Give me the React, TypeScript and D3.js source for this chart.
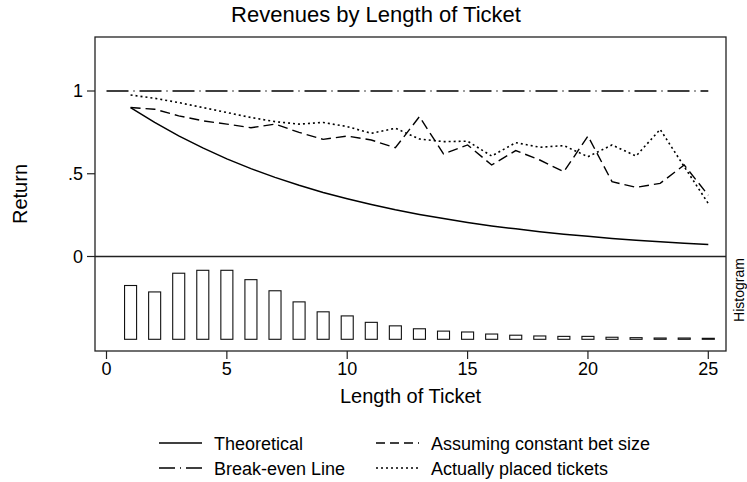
import { useEffect, useRef } from "react";
import * as d3 from "d3";

// ticket length 1..25
const lengths = d3.range(1, 26);

// theoretical return per ticket length
const theoretical = [
  0.9, 0.81, 0.729, 0.656, 0.59, 0.531, 0.478, 0.43, 0.387, 0.349, 0.314, 0.282,
  0.254, 0.229, 0.206, 0.185, 0.167, 0.15, 0.135, 0.122, 0.109, 0.098, 0.089,
  0.08, 0.072,
];

// assuming constant bet size
const constantBet = [
  0.9, 0.89, 0.85, 0.82, 0.8, 0.778, 0.8, 0.75, 0.708, 0.728, 0.704, 0.657,
  0.845, 0.62, 0.674, 0.553, 0.64, 0.583, 0.512, 0.728, 0.452, 0.418, 0.442,
  0.553, 0.37,
];

// actually placed tickets
const actualTickets = [
  0.976, 0.956, 0.93, 0.9, 0.87, 0.84, 0.815, 0.8, 0.81, 0.785, 0.744, 0.775,
  0.71, 0.694, 0.697, 0.607, 0.688, 0.66, 0.67, 0.603, 0.674, 0.607, 0.768,
  0.543, 0.32,
];

// share of tickets by length (percent)
const histogram = [
  9.2, 8.1, 11.3, 11.8, 11.8, 10.2, 8.3, 6.4, 4.7, 4.0, 2.9, 2.3, 1.8, 1.4,
  1.25, 0.9, 0.7, 0.57, 0.5, 0.5, 0.35, 0.28, 0.22, 0.22, 0.17,
];

const breakEven = [
  { x: 0, y: 1 },
  { x: 25, y: 1 },
];

const xTicks = [0, 5, 10, 15, 20, 25];
const yTicks = [0, 0.5, 1];
const yTickLabels = ["0", ".5", "1"];

const legendItems = [
  { label: "Theoretical", dash: null, col: 0, row: 0 },
  { label: "Break-even Line", dash: "16,5,1,5", col: 0, row: 1 },
  { label: "Assuming constant bet size", dash: "9,5", col: 1, row: 0 },
  { label: "Actually placed tickets", dash: "2,3", col: 1, row: 1 },
];

const FONT = "'Liberation Sans', Arial, Helvetica, sans-serif";

const App = () => {
  const svgRef = useRef<SVGSVGElement | null>(null);

  useEffect(() => {
    document.body.style.margin = "0";
    const width = 747;
    const height = 482;
    const frame = { left: 95, right: 726, top: 37, bottom: 351 };

    const svg = d3.select(svgRef.current);
    svg.selectAll("*").remove();
    svg.attr("width", width).attr("height", height);

    svg
      .append("rect")
      .attr("width", width)
      .attr("height", height)
      .attr("fill", "white");

    const x = d3.scaleLinear().domain([0, 25]).range([106.5, 708.3]);
    const y = d3.scaleLinear().domain([0, 1]).range([256.5, 91]);
    const histBase = 339.3;
    const yHist = d3
      .scaleLinear()
      .domain([0, 11.8])
      .range([histBase, histBase - 69]);

    // title
    svg
      .append("text")
      .attr("x", 376)
      .attr("y", 22)
      .attr("text-anchor", "middle")
      .style("font-family", FONT)
      .style("font-size", "22px")
      .text("Revenues by Length of Ticket");

    // histogram bars
    const barW = x(0.5) - x(0);
    svg
      .selectAll(".bar")
      .data(histogram)
      .enter()
      .append("rect")
      .attr("class", "bar")
      .attr("x", (d, i) => x(lengths[i]) - barW / 2)
      .attr("y", (d) => yHist(d))
      .attr("width", barW)
      .attr("height", (d) => histBase - yHist(d))
      .attr("fill", "white")
      .attr("stroke", "#111")
      .attr("stroke-width", 1.1);

    // lines
    const line = d3
      .line<{ x: number; y: number }>()
      .x((d) => x(d.x))
      .y((d) => y(d.y));

    const toPts = (arr: number[]) => arr.map((v, i) => ({ x: lengths[i], y: v }));

    const series = [
      { pts: breakEven, dash: "22,5,1,5", w: 1.3 },
      { pts: toPts(theoretical), dash: null, w: 1.5 },
      { pts: toPts(constantBet), dash: "10,5", w: 1.4 },
      { pts: toPts(actualTickets), dash: "2,3", w: 1.6 },
    ];

    series.forEach((s) => {
      svg
        .append("path")
        .attr("d", line(s.pts))
        .attr("fill", "none")
        .attr("stroke", "#000")
        .attr("stroke-width", s.w)
        .attr("stroke-dasharray", s.dash);
    });

    // frame and zero separator
    svg
      .append("rect")
      .attr("x", frame.left)
      .attr("y", frame.top)
      .attr("width", frame.right - frame.left)
      .attr("height", frame.bottom - frame.top)
      .attr("fill", "none")
      .attr("stroke", "#222")
      .attr("stroke-width", 1.3);

    svg
      .append("line")
      .attr("x1", frame.left)
      .attr("x2", frame.right)
      .attr("y1", y(0))
      .attr("y2", y(0))
      .attr("stroke", "#222")
      .attr("stroke-width", 1.3);

    // y axis ticks
    yTicks.forEach((t, i) => {
      svg
        .append("line")
        .attr("x1", frame.left - 8)
        .attr("x2", frame.left)
        .attr("y1", y(t))
        .attr("y2", y(t))
        .attr("stroke", "#222")
        .attr("stroke-width", 1.2);
      svg
        .append("text")
        .attr("x", frame.left - 12)
        .attr("y", y(t))
        .attr("dy", "0.35em")
        .attr("text-anchor", "end")
        .style("font-family", FONT)
        .style("font-size", "18px")
        .text(yTickLabels[i]);
    });

    // x axis ticks
    xTicks.forEach((t) => {
      svg
        .append("line")
        .attr("x1", x(t))
        .attr("x2", x(t))
        .attr("y1", frame.bottom)
        .attr("y2", frame.bottom + 8)
        .attr("stroke", "#222")
        .attr("stroke-width", 1.2);
      svg
        .append("text")
        .attr("x", x(t))
        .attr("y", 375)
        .attr("text-anchor", "middle")
        .style("font-family", FONT)
        .style("font-size", "18px")
        .text(t);
    });

    // axis titles
    svg
      .append("text")
      .attr("x", (frame.left + frame.right) / 2)
      .attr("y", 403)
      .attr("text-anchor", "middle")
      .style("font-family", FONT)
      .style("font-size", "20px")
      .text("Length of Ticket");

    svg
      .append("text")
      .attr("transform", `translate(27,${(frame.top + frame.bottom) / 2}) rotate(-90)`)
      .attr("text-anchor", "middle")
      .style("font-family", FONT)
      .style("font-size", "20px")
      .text("Return");

    svg
      .append("text")
      .attr("transform", `translate(744,290) rotate(-90)`)
      .attr("text-anchor", "middle")
      .style("font-family", FONT)
      .style("font-size", "14px")
      .text("Histogram");

    // legend
    const colX = [159, 376];
    const rowY = [450, 475];
    legendItems.forEach((d) => {
      const lx = colX[d.col];
      const ly = rowY[d.row];
      svg
        .append("line")
        .attr("x1", lx)
        .attr("x2", lx + 43)
        .attr("y1", ly - 7)
        .attr("y2", ly - 7)
        .attr("stroke", "#000")
        .attr("stroke-width", 1.4)
        .attr("stroke-dasharray", d.dash);
      svg
        .append("text")
        .attr("x", lx + 55)
        .attr("y", ly)
        .style("font-family", FONT)
        .style("font-size", "18px")
        .text(d.label);
    });
  }, []);

  return (
    <div style={{ position: "absolute", left: 0, top: 0 }}>
      <svg ref={svgRef}></svg>
    </div>
  );
};

export default App;
